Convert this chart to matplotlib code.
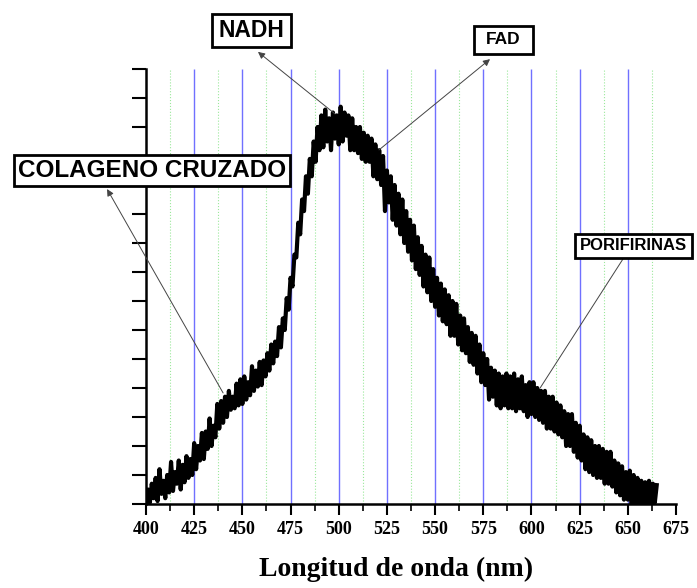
import numpy as np
import matplotlib.pyplot as plt
from matplotlib.patches import Rectangle
from matplotlib.ticker import MultipleLocator, NullFormatter

# emission spectrum at 1 nm steps (400..665 nm)
wavelength = np.arange(400, 666)
intensity = [
    0.0, 0.5, 0.05, 0.7, 0.2, 0.9, 0.1, 1.2, 0.35, 0.8,
    0.2, 1.0, 0.4, 1.45, 0.45, 1.1, 0.7, 1.5, 0.5, 1.35,
    0.75, 1.65, 0.9, 1.55, 1.0, 2.1, 1.2, 2.0, 1.5, 2.45,
    1.55, 2.5, 1.9, 2.95, 2.0, 2.7, 2.3, 3.45, 2.6, 3.55,
    2.8, 3.7, 3.0, 3.9, 3.25, 3.7, 3.3, 4.15, 3.4, 4.3,
    3.45, 4.4, 3.6, 4.2, 3.75, 4.75, 3.9, 4.6, 4.05, 4.9,
    4.1, 4.95, 4.4, 5.2, 4.6, 5.5, 4.85, 5.6, 5.1, 6.1,
    5.4, 6.4, 6.0, 7.1, 6.7, 7.8, 7.5, 8.6, 8.5, 9.7,
    9.3, 10.5, 10.1, 11.3, 10.7, 11.9, 11.3, 12.5, 11.8, 13.0,
    12.2, 13.4, 12.3, 13.6, 12.5, 13.3, 12.2, 13.5, 12.6, 13.4,
    12.4, 13.7, 12.5, 13.5, 12.7, 13.4, 12.2, 13.3, 12.2, 13.0,
    12.1, 13.0, 11.9, 12.8, 11.8, 12.7, 11.8, 12.6, 11.3, 12.4,
    11.2, 12.2, 11.0, 12.0, 10.1, 11.5, 10.4, 11.3, 9.8, 11.0,
    9.6, 10.7, 9.3, 10.5, 9.0, 10.1, 8.7, 9.8, 8.4, 9.6,
    8.1, 9.2, 7.9, 8.9, 7.5, 8.6, 7.3, 8.5, 7.0, 8.1,
    6.8, 7.8, 6.5, 7.6, 6.3, 7.4, 6.2, 7.2, 5.8, 7.0,
    5.8, 6.9, 5.5, 6.5, 5.3, 6.4, 5.2, 6.1, 4.9, 5.9,
    4.8, 5.8, 4.5, 5.5, 4.2, 5.2, 4.1, 5.0, 3.6, 4.7,
    3.7, 4.6, 3.4, 4.5, 3.3, 4.4, 3.4, 4.5, 3.3, 4.4,
    3.3, 4.5, 3.2, 4.3, 3.3, 4.4, 3.2, 4.1, 3.0, 4.2,
    3.1, 4.2, 3.0, 4.0, 2.9, 3.9, 2.8, 3.9, 2.6, 3.7,
    2.6, 3.7, 2.5, 3.5, 2.4, 3.4, 2.3, 3.2, 2.0, 3.1,
    2.0, 3.1, 1.8, 2.8, 1.6, 2.7, 1.5, 2.4, 1.2, 2.3,
    1.1, 2.2, 1.0, 2.0, 0.9, 2.0, 0.9, 1.9, 0.7, 1.8,
    0.7, 1.8, 0.6, 1.5, 0.4, 1.4, 0.3, 1.3, 0.15, 1.1,
    0.15, 1.15, 0.0, 1.0, 0.0, 0.9, 0.0, 0.8, 0.0, 0.75,
    0.0, 0.8, 0.0, 0.7, 0.05, 0.65,
]

major_lines = [425, 450, 475, 500, 525, 550, 575, 600, 625, 650]
minor_lines = [412.5, 437.5, 462.5, 487.5, 512.5, 537.5, 562.5, 587.5, 612.5, 637.5, 662.5]

# labels: text, curve point, arrow end near the box (data units),
# box (left, top, right, bottom) in image pixels, fontsize, arrow head?
labels = [
    ("COLAGENO CRUZADO", (440.0, 3.83), (379.8, 10.86), (14, 155, 290, 186), 17.5, True),
    ("NADH", (498.1, 13.45), (458.1, 15.59), (212, 14, 291, 47), 16.5, True),
    ("FAD", (520.9, 12.21), (578.5, 15.34), (474, 26, 533, 54), 12.5, True),
    ("PORIFIRINAS", (604.5, 4.0), (647.5, 8.45), (575, 234, 692, 258), 12, False),
]

W, H = 697, 588
fig = plt.figure(figsize=(W/100, H/100), dpi=100)
ax = fig.add_axes([146/W, 84/H, 530/W, 435/H])

ax.vlines(major_lines, 0, 15, colors='#7070ff', linewidth=1.0, zorder=1)
ax.vlines(minor_lines, 0, 15, colors='#9be89b', linewidth=0.8, linestyles=':', zorder=1)

ax.plot(wavelength, intensity, color='black', linewidth=3.0, zorder=3)

ax.set_xlim(400, 675)
ax.set_ylim(0, 15)
ax.spines['top'].set_visible(False)
ax.spines['right'].set_visible(False)
ax.spines['left'].set_linewidth(1.8)
ax.spines['bottom'].set_linewidth(1.8)

ax.xaxis.set_major_locator(MultipleLocator(25))
ax.xaxis.set_minor_locator(MultipleLocator(12.5))
ax.yaxis.set_major_locator(MultipleLocator(1))
ax.yaxis.set_major_formatter(NullFormatter())
ax.tick_params(axis='x', which='major', length=8, width=1.5, pad=4)
ax.tick_params(axis='x', which='minor', length=5, width=1.2)
ax.tick_params(axis='y', which='major', length=10, width=1.5)
for lab in ax.get_xticklabels():
    lab.set_fontfamily('Liberation Serif')
    lab.set_fontweight('bold')
    lab.set_fontsize(13)

ax.set_xlabel('Longitud de onda (nm)', fontfamily='Liberation Serif',
              fontweight='bold', fontsize=20)
ax.xaxis.set_label_coords((396 - 146)/530, (504 - 557)/435)

for text, tail, head, box, fs, has_head in labels:
    style = '-|>' if has_head else '-'
    ax.annotate('', xy=head, xytext=tail, xycoords='data', textcoords='data',
                annotation_clip=False,
                arrowprops=dict(arrowstyle=style, color='#444444', lw=0.7,
                                mutation_scale=10, shrinkA=0, shrinkB=0))
    x0, y0, x1, y1 = box
    fig.patches.append(Rectangle((x0/W, 1 - y1/H), (x1 - x0)/W, (y1 - y0)/H,
                                 transform=fig.transFigure, facecolor='white',
                                 edgecolor='black', linewidth=2, zorder=5))
    fig.text((x0 + x1)/2/W, 1 - (y0 + y1)/2/H, text, ha='center', va='center',
             fontfamily='Liberation Sans', fontweight='bold', fontsize=fs, zorder=6)

fig.savefig('out.png', dpi=100)
